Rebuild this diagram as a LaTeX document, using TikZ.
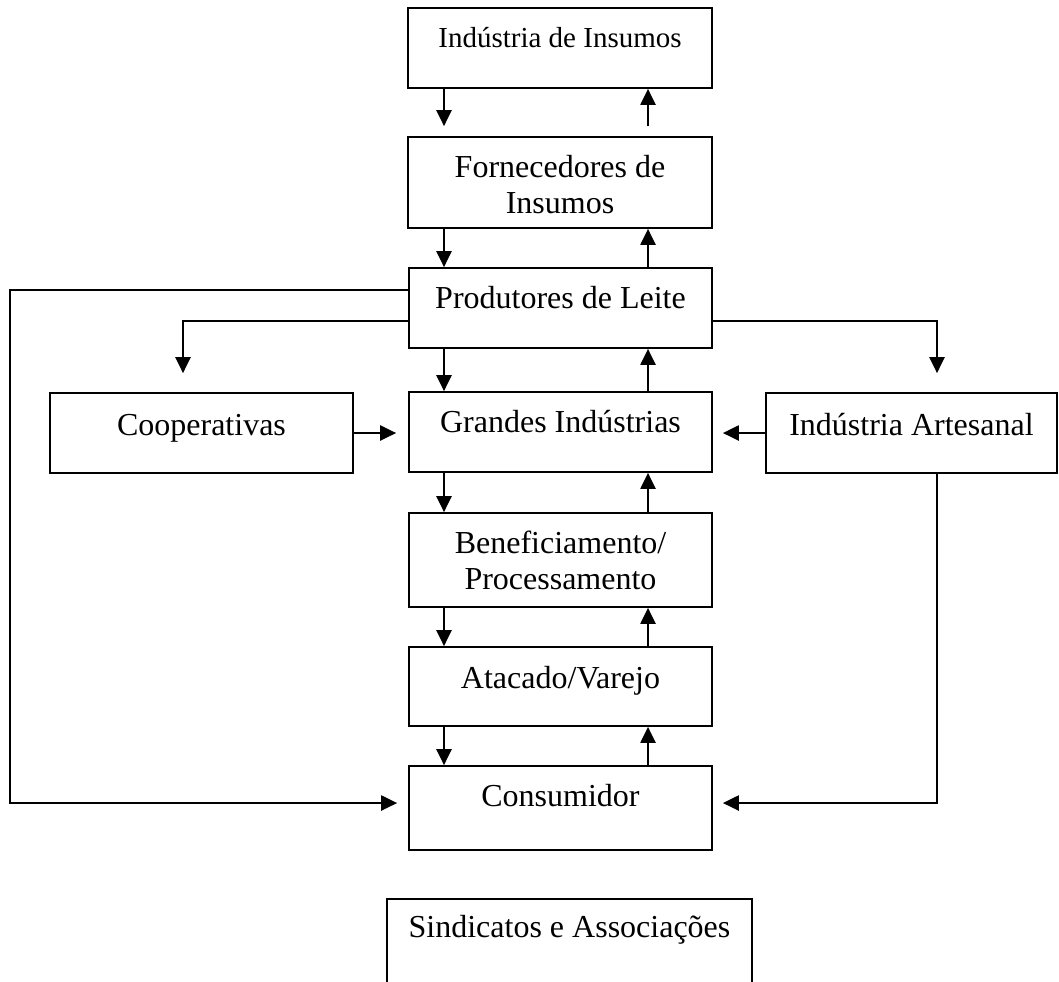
\documentclass[tikz,border=0pt]{standalone}
\usepackage{fontspec}
\setmainfont{Liberation Serif}
\usetikzlibrary{arrows.meta}

\begin{document}
\begin{tikzpicture}[x=0.5pt,y=-0.5pt]
	\tikzset{
		box/.style={draw,line width=0.85pt,inner ysep=0pt,align=center,
			minimum width=151.5pt,font=\fontsize{16}{18}\selectfont},
		flow/.style={line width=1.1pt,-{Triangle[length=8pt,width=7.5pt]}}}
	\clip (0,0) rectangle (1059,981);
	\node[box,minimum width=152pt,text height=19.5pt,text depth=20.5pt,
		font=\fontsize{14.5}{17}\selectfont](ind) at (560,48){Indústria de Insumos};
	\node[box,minimum width=152pt,text height=38pt,text depth=7.5pt](forn) at (560,182.5){Fornecedores de\\Insumos};
	\node[box,text height=20pt,text depth=20pt](prod) at (560.5,308){Produtores de Leite};
	\node[box,text height=20pt,text depth=20pt](grand) at (560.5,432){Grandes Indústrias};
	\node[box,text height=21pt,text depth=19pt](coop) at (201.5,433){Cooperativas};
	\node[box,minimum width=145.5pt,text height=21pt,text depth=19pt](art) at (911.5,433){Indústria Artesanal};
	\node[box,text height=38pt,text depth=9pt](benef) at (560.5,560){Beneficiamento/\\Processamento};
	\node[box,text height=20.5pt,text depth=19pt](atac) at (560.5,686.5){Atacado/Varejo};
	\node[box,text height=20pt,text depth=22pt](cons) at (560.5,808){Consumidor};
	\node[box,minimum width=182.5pt,text height=19pt,text depth=30pt](sind) at (569.5,948){Sindicatos e Associações};
	\coordinate (dn) at (444,0);
	\coordinate (up) at (648,0);
	\draw[flow,shorten >=5pt](ind.south -| dn)--(forn.north -| dn);
	\draw[flow,shorten <=5pt](forn.north -| up)--(ind.south -| up);
	\foreach \a/\b in {forn/prod,prod/grand,grand/benef,benef/atac,atac/cons}{
		\draw[flow](\a.south -| dn)--(\b.north -| dn);
		\draw[flow](\b.north -| up)--(\a.south -| up);
	}
	\coordinate (lt) at (10,290);
	\coordinate (lb) at (10,803);
	\draw[flow,shorten >=5.5pt](prod.west |- lt)--(lt)--(lb)--(cons.west |- lb);
	\coordinate (cl) at (183,321);
	\draw[flow,shorten >=9.5pt](prod.west |- cl)--(cl)--(cl |- coop.north);
	\coordinate (ar) at (937,321);
	\draw[flow,shorten >=9.5pt](prod.east |- ar)--(ar)--(ar |- art.north);
	\coordinate (rb) at (937,803);
	\draw[flow,shorten >=5pt](art.south -| rb)--(rb)--(cons.east |- rb);
	\draw[flow,shorten >=6pt](coop.east)--(coop.east -| grand.west);
	\draw[flow,shorten >=5pt](art.west)--(art.west -| grand.east);
\end{tikzpicture}
\end{document}
